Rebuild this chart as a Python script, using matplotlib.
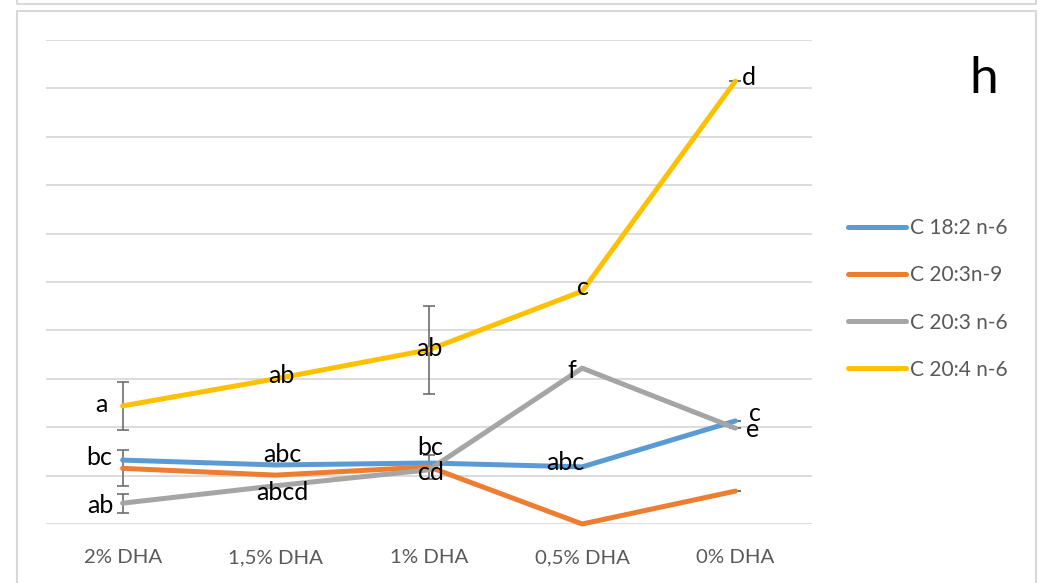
import numpy as np
import matplotlib.pyplot as plt
from matplotlib.lines import Line2D

# ---- data -------------------------------------------------------------
categories = ["2% DHA", "1,5% DHA", "1% DHA", "0,5% DHA", "0% DHA"]
series_names = ["C 18:2 n-6", "C 20:3n-9", "C 20:3 n-6", "C 20:4 n-6"]

c18_2_n6 = [1.32, 1.22, 1.26, 1.18, 2.13]
c20_3_n9 = [1.15, 1.01, 1.18, 0.00, 0.68]
c20_3_n6 = [0.43, 0.79, 1.12, 3.22, 1.98]
c20_4_n6 = [2.44, 3.00, 3.60, 4.81, 9.15]

nan = np.nan
err_c18_2_n6 = [nan, nan, nan, nan, 0.0]
err_c20_3_n9 = [0.37, nan, 0.24, nan, 0.0]
err_c20_3_n6 = [0.20, nan, nan, nan, 0.0]
err_c20_4_n6 = [0.50, nan, 0.91, nan, 0.0]

letters_c18_2_n6 = ["bc", "abc", "bc", "abc", "c"]
letters_c20_3_n9 = ["", "", "", "", ""]
letters_c20_3_n6 = ["ab", "abcd", "cd", "f", "e"]
letters_c20_4_n6 = ["a", "ab", "ab", "c", "d"]

panel_label = "h"

# ---- styling ----------------------------------------------------------
colors = ["#5B9BD5", "#ED7D31", "#A5A5A5", "#FFC000"]
grid_color = "#D9D9D9"
text_gray = "#595959"
err_color = "#6E6E6E"
FONT = ["Lato", "DejaVu Sans"]

# label offsets (pixels) relative to each point, baseline-anchored
offsets = [
    [(-23, -5), (7, 3), (1, 8), (-17, -3), (20, 0)],
    [(0, 0)] * 5,
    [(-22, -10), (7, -14), (2, -10), (-10, -10), (17, -9)],
    [(-21, -6), (6, -4), (0, -6), (1, -4), (13, -4)],
]

W, H = 1043, 583
fig = plt.figure(figsize=(W / 100, H / 100), dpi=100)
fig.patch.set_facecolor("white")


def fx(px):
    return px / W


def fy(py):
    return 1 - py / H


ax = fig.add_axes([fx(46), fy(524), fx(812) - fx(46), fy(40) - fy(524)])

x = np.arange(len(categories))
values = [c18_2_n6, c20_3_n9, c20_3_n6, c20_4_n6]
errors = [err_c18_2_n6, err_c20_3_n9, err_c20_3_n6, err_c20_4_n6]
letters = [letters_c18_2_n6, letters_c20_3_n9, letters_c20_3_n6, letters_c20_4_n6]

for i, (vals, errs, col, name) in enumerate(zip(values, errors, colors, series_names)):
    vals = np.asarray(vals, dtype=float)
    errs = np.asarray(errs, dtype=float)
    ax.plot(x, vals, color=col, lw=3.6, solid_capstyle="round",
            solid_joinstyle="round", label=name, zorder=3 + i, clip_on=False)
    m = ~np.isnan(errs)
    ax.errorbar(x[m], vals[m], yerr=errs[m], fmt="none", ecolor=err_color,
                elinewidth=1.2, capsize=4, capthick=1.2, zorder=2, clip_on=False)

for i, (vals, labs) in enumerate(zip(values, letters)):
    for j, (v, lab) in enumerate(zip(vals, labs)):
        if not lab:
            continue
        dx, dy = offsets[i][j]
        ax.annotate(lab, (x[j], v), xytext=(dx, dy), textcoords="offset pixels",
                    ha="center", va="baseline", fontsize=18, family=FONT,
                    color="black", zorder=10, annotation_clip=False)

ax.set_xlim(-0.5, len(categories) - 0.5)
ax.set_ylim(0, 10)
ax.set_yticks(np.arange(0, 11, 1))
ax.yaxis.grid(True, color=grid_color, lw=1.3)
ax.set_axisbelow(True)
ax.tick_params(axis="y", left=False, labelleft=False)
ax.set_xticks(x)
ax.set_xticklabels(categories, fontsize=14.7, color=text_gray, family=FONT)
ax.tick_params(axis="x", length=0, pad=18)
for s in ax.spines.values():
    s.set_visible(False)

# legend on the right
handles = [Line2D([], [], color=c, lw=3.6, solid_capstyle="round") for c in colors]
fig.legend(handles, series_names, loc="center left",
           bbox_to_anchor=(fx(848), fy(299)), frameon=False,
           prop={"family": FONT, "size": 15}, labelcolor=text_gray,
           handlelength=2.8, handletextpad=0.2, labelspacing=1.3,
           borderpad=0, borderaxespad=0)

fig.text(fx(984), fy(93), panel_label, fontsize=37, family=FONT,
         ha="center", va="baseline", color="black")

# chart frames
frame_kw = dict(color=grid_color, lw=1.5, transform=fig.transFigure)
fig.add_artist(Line2D([fx(17), fx(17), fx(1036), fx(1036)],
                      [fy(600), fy(11), fy(11), fy(600)], **frame_kw))
fig.add_artist(Line2D([fx(17), fx(17), fx(1036), fx(1036)],
                      [fy(-5), fy(4), fy(4), fy(-5)], **frame_kw))

fig.savefig("out.png", dpi=100, facecolor="white")
